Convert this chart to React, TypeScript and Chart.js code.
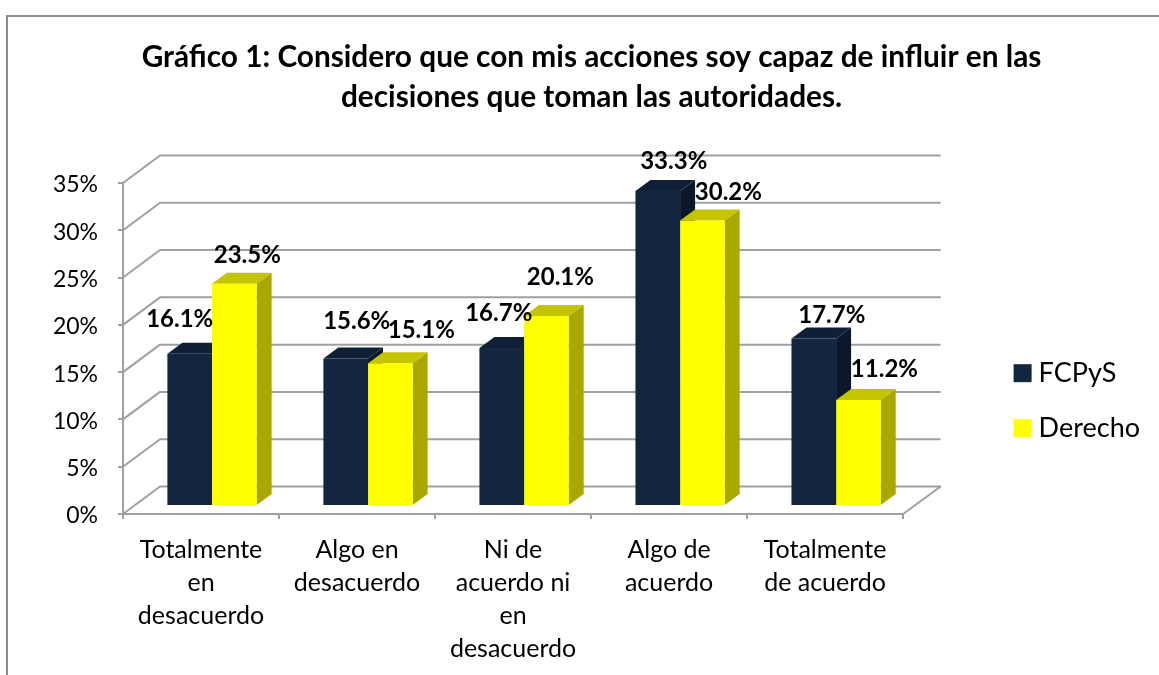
import React, { useEffect, useRef } from "react";
import { Chart, registerables } from "chart.js";

Chart.register(...registerables);

const titleLines = [
  "Gráfico 1: Considero que con mis acciones soy capaz de influir en las",
  "decisiones que toman las autoridades.",
];
const categories = [
  ["Totalmente", "en", "desacuerdo"],
  ["Algo en", "desacuerdo"],
  ["Ni de", "acuerdo ni", "en", "desacuerdo"],
  ["Algo de", "acuerdo"],
  ["Totalmente", "de acuerdo"],
];
const fcpys = [16.1, 15.6, 16.7, 33.3, 17.7];
const derecho = [23.5, 15.1, 20.1, 30.2, 11.2];
const yTicks = [0, 5, 10, 15, 20, 25, 30, 35];

const FONT = "Lato, 'Open Sans', sans-serif";
const GREY = "#a0a0a0";
const shades = [
  { front: "#12263f", top: "#0f1f36", side: "#0b172a" },
  { front: "#ffff00", top: "#c4c400", side: "#a8a800" },
];
// style: 3D geometry in pixels
const wall = { dx: 37, dy: -27.5, extraRight: 0.5 };
const barShift = { x: 11, y: -8 };
const barDepth = { x: 15, y: -11 };
// style: label nudges from each bar's top centre
const labelNudges = [
  [[-10, -34], [13, -28]],
  [[11, -37], [31, -33]],
  [[-3, -35], [14, -39]],
  [[16, -30], [26, -28]],
  [[18, -23], [26, -31]],
];

const scene = {
  id: "scene",
  beforeDraw(chart: any) {
    const ctx = chart.ctx;
    ctx.save();
    ctx.fillStyle = "#ffffff";
    ctx.fillRect(0, 0, chart.width, chart.height);
    ctx.strokeStyle = "#8c8c8c";
    ctx.lineWidth = 2;
    ctx.strokeRect(7, 16, chart.width + 20, chart.height + 20);
    ctx.restore();
  },
  beforeDatasetsDraw(chart: any) {
    const { ctx, chartArea, scales } = chart;
    const { left, right } = chartArea;
    ctx.save();
    ctx.strokeStyle = GREY;
    ctx.lineWidth = 2;
    ctx.lineJoin = "round";
    for (const t of yTicks) {
      const y = scales.y.getPixelForValue(t);
      ctx.beginPath();
      ctx.moveTo(left, y);
      ctx.lineTo(left + wall.dx, y + wall.dy);
      ctx.lineTo(right + wall.dx + wall.extraRight, y + wall.dy);
      if (t === 0) ctx.lineTo(right, y);
      ctx.stroke();
    }
    // depth faces, first series first so the next one covers it
    [0, 1].forEach((d) => {
      const bars = chart.getDatasetMeta(d).data;
      bars.forEach((b: any) => {
        const hw = b.width / 2;
        const l = b.x - hw + barShift.x;
        const r = b.x + hw + barShift.x;
        const t = b.y + barShift.y;
        const bt = b.base + barShift.y;
        ctx.fillStyle = shades[d].side;
        ctx.beginPath();
        ctx.moveTo(r, t);
        ctx.lineTo(r + barDepth.x, t + barDepth.y);
        ctx.lineTo(r + barDepth.x, bt + barDepth.y);
        ctx.lineTo(r, bt);
        ctx.closePath();
        ctx.fill();
        ctx.fillStyle = shades[d].top;
        ctx.beginPath();
        ctx.moveTo(l, t);
        ctx.lineTo(l + barDepth.x, t + barDepth.y);
        ctx.lineTo(r + barDepth.x, t + barDepth.y);
        ctx.lineTo(r, t);
        ctx.closePath();
        ctx.fill();
      });
    });
    ctx.restore();
    ctx.save();
    ctx.translate(barShift.x, barShift.y);
  },
  afterDatasetsDraw(chart: any) {
    const ctx = chart.ctx;
    ctx.restore();
    ctx.save();
    ctx.font = `bold 24px ${FONT}`;
    ctx.fillStyle = "#000000";
    ctx.textAlign = "center";
    ctx.textBaseline = "middle";
    [0, 1].forEach((d) => {
      const ds = chart.data.datasets[d];
      chart.getDatasetMeta(d).data.forEach((b: any, i: number) => {
        const [nx, ny] = labelNudges[i][d];
        ctx.fillText(`${ds.data[i].toFixed(1)}%`, b.x + barShift.x + nx, b.y + barShift.y + ny);
      });
    });
    ctx.restore();
  },
};

export default function App() {
  const ref = useRef<HTMLCanvasElement>(null);
  useEffect(() => {
    const chart = new Chart(ref.current!, {
      type: "bar",
      data: {
        labels: categories as any,
        datasets: [
          { label: "FCPyS", data: fcpys, backgroundColor: shades[0].front, borderWidth: 0, categoryPercentage: 0.572, barPercentage: 1, yAxisID: "y" },
          { label: "Derecho", data: derecho, backgroundColor: shades[1].front, borderWidth: 0, categoryPercentage: 0.572, barPercentage: 1, yAxisID: "y" },
        ],
      },
      plugins: [scene],
      options: {
        responsive: false,
        animation: false,
        layout: { padding: { left: 33, right: 9, top: 20, bottom: 11 } },
        scales: {
          x: {
            offset: true,
            grid: { drawOnChartArea: false, drawTicks: true, tickLength: 5, color: GREY, lineWidth: 2 },
            border: { color: GREY, width: 2 },
            ticks: { color: "#000000", font: { family: FONT, size: 25, lineHeight: 1.32 }, padding: 14, maxRotation: 0, autoSkip: false },
            afterFit(s: any) { s.height = 150; },
          },
          y: {
            min: 0,
            max: 35,
            position: "left",
            grid: { drawOnChartArea: false, tickLength: 5, color: GREY, lineWidth: 2 },
            border: { color: GREY, width: 2 },
            ticks: { stepSize: 5, color: "#000000", font: { family: FONT, size: 23 }, padding: 20, labelOffset: 2, callback: (v: any) => `${v}%` },
            afterFit(s: any) { s.width = 90; },
          },
          spacer: {
            position: "right",
            min: 0,
            max: 1,
            grid: { display: false, drawOnChartArea: false },
            border: { display: false },
            ticks: { display: false },
            afterFit(s: any) { s.width = 89; },
          },
        },
        plugins: {
          title: {
            display: true,
            text: titleLines,
            color: "#000000",
            font: { family: FONT, size: 29.8, weight: "bold", lineHeight: 1.342 },
            padding: { top: 17, bottom: 66 },
          },
          legend: {
            display: true,
            position: "right",
            fullSize: false,
            title: { display: true, text: " ", font: { size: 2 }, padding: 51 },
            labels: {
              usePointStyle: true,
              pointStyle: "rect",
              boxWidth: 5,
              boxHeight: 18,
              padding: 28,
              color: "#000000",
              font: { family: FONT, size: 27 },
            },
          },
          tooltip: { enabled: false },
        },
      } as any,
    });
    return () => chart.destroy();
  }, []);
  return (
    <div style={{ position: "fixed", left: 0, top: 0, width: 1159, height: 675, background: "#fff" }}>
      <canvas ref={ref} width={1159} height={675} style={{ display: "block" }} />
    </div>
  );
}
